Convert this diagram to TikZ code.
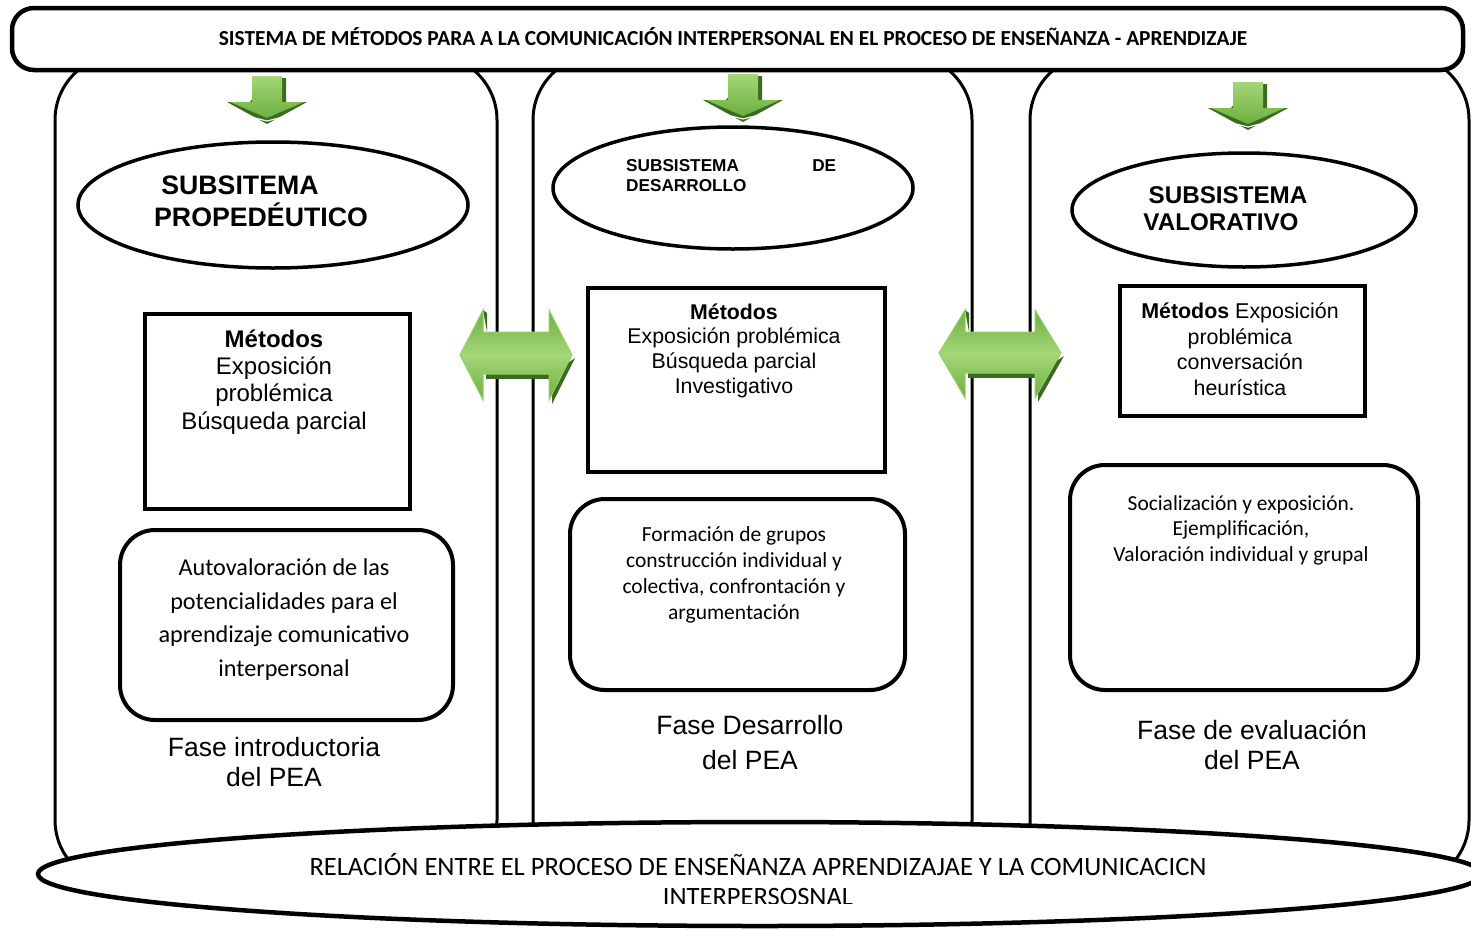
\documentclass[tikz,border=0pt]{standalone}
\usepackage{fontspec}
\setmainfont{Liberation Sans}
\newfontfamily\calfont{Carlito}
\usetikzlibrary{shapes.geometric}
\definecolor{gLight}{RGB}{165,214,120}
\definecolor{gMid}{RGB}{108,176,62}
\definecolor{gDark}{RGB}{58,108,32}
\definecolor{gEdge}{RGB}{150,205,110}
\newcommand\gdown[2]{% center x, top y
  \fill[gDark] ({#1+2},{#2+2}) -- ({#1+19},{#2+2}) -- ({#1+19},{#2+26}) -- ({#1+40},{#2+26}) -- (#1,{#2+48}) -- ({#1-40},{#2+26}) -- ({#1-17},{#2+26}) -- cycle;
  \shade[top color=gLight, bottom color=gMid] ({#1-15},#2) -- ({#1+15},#2) -- ({#1+15},{#2+26}) -- ({#1+37},{#2+26}) -- (#1,{#2+42}) -- ({#1-37},{#2+26}) -- ({#1-15},{#2+26}) -- cycle;
  \draw[white, line width=1.2pt] ({#1-36},{#2+36}) -- (#1,{#2+45}) -- ({#1+36},{#2+36});
}
\newcommand\gdouble[8]{% x1 x2 top bot headlen shaftTop shaftBot cy
  \fill[gDark] ({#1+#5+3},{#7-4}) rectangle ({#2-#5+3},{#7+5});
  \fill[gDark] ({#2-#5+3},{#7}) -- ({#2-#5+3},{#4+4}) -- ({#2+3},{#8+3}) -- cycle;
  \fill[gDark] ({#1+#5},{#3}) -- ({#1+#5+4},{#3+3}) -- ({#1+#5+4},{#6}) -- cycle;
  \shade[top color=gMid, bottom color=gMid, middle color=gLight, draw=gEdge, line width=1pt]
    (#1,#8) -- ({#1+#5},#3) -- ({#1+#5},#6) -- ({#2-#5},#6) -- ({#2-#5},#3) -- (#2,#8)
    -- ({#2-#5},#4) -- ({#2-#5},#7) -- ({#1+#5},#7) -- ({#1+#5},#4) -- cycle;
}
\begin{document}
\begin{tikzpicture}[x=1pt,y=-1pt,
  colline/.style={draw, line width=3pt, rounded corners=65},
  mbox/.style={draw, line width=3.5pt, inner sep=0},
  rbox/.style={draw, line width=4pt, rounded corners=35, inner sep=0},
  oval/.style={draw, ellipse, line width=3.5pt, fill=white, inner sep=0},
  txt/.style={align=center, inner sep=0},
]
\useasboundingbox[fill=white] (0,0) rectangle (1471,929);

% columns
\draw[colline] (55,885) rectangle (497,55);
\draw[colline] (533,885) rectangle (972,55);
\draw[colline] (1030,885) rectangle (1469,55);

% banner
\node[draw, line width=4.5pt, rounded corners=22, fill=white, minimum width=1451, minimum height=62, inner sep=0] (banner) at (737.5,39) {};
\node[txt, font=\calfont\bfseries\fontsize{21.4}{24}\selectfont] (title) at (733,37) {SISTEMA DE MÉTODOS PARA A LA COMUNICACIÓN INTERPERSONAL EN EL PROCESO DE ENSEÑANZA - APRENDIZAJE};

% bottom ellipse
\node[oval, line width=4.5pt, minimum width=1444, minimum height=104] (rel) at (760,874) {};
\begin{scope}
  \clip (0,0) rectangle (1471,903);
  \node[txt, font=\calfont\fontsize{26.5}{30}\selectfont] (reltxt) at (758,880) {RELACIÓN ENTRE EL PROCESO DE ENSEÑANZA APRENDIZAJAE Y LA COMUNICACICN\\INTERPERSOSNAL};
\end{scope}

% down arrows
\gdown{267}{76}
\gdown{743}{74}
\gdown{1248}{82}

% double arrows
\gdouble{460}{572}{310}{400}{23}{332}{374}{355}
\gdouble{939}{1061}{310}{398}{26}{332}{373}{353}

% subsystem ellipses
\node[oval, minimum width=390, minimum height=126] (eL) at (273,205) {};
\node[oval, minimum width=360, minimum height=122] (eM) at (733,188) {};
\node[oval, minimum width=344, minimum height=114] (eR) at (1244,210) {};
\node[txt, font=\bfseries\fontsize{26.7}{30}\selectfont] (eL1) at (240,185) {SUBSITEMA};
\node[txt, font=\bfseries\fontsize{26.7}{30}\selectfont] (eL2) at (261,215) {PROPEDÉUTICO};
\node[txt, align=left, anchor=north west, font=\bfseries\fontsize{17.2}{20}\selectfont] (eMt) at (626,159) {\makebox[210pt][s]{SUBSISTEMA\hfill DE}\\DESARROLLO};
\node[txt, font=\bfseries\fontsize{24.2}{27}\selectfont] (eR1) at (1228,195) {SUBSISTEMA};
\node[txt, font=\bfseries\fontsize{24.2}{27}\selectfont] (eR2) at (1221,222) {VALORATIVO};

% methods boxes
\node[mbox, minimum width=265, minimum height=195] (mL) at (277.5,411.5) {};
\node[mbox, minimum width=297, minimum height=184] (mM) at (736.5,380) {};
\node[mbox, minimum width=245, minimum height=130] (mR) at (1242.5,351) {};
\node[txt, font=\fontsize{24}{27.3}\selectfont] (mLt) at (274,382) {\textbf{Métodos}\\Exposición\\problémica\\Búsqueda parcial};
\node[txt, font=\fontsize{21.3}{24.7}\selectfont] (mMt) at (734,350.5) {\textbf{Métodos}\\Exposición problémica\\Búsqueda parcial\\Investigativo};
\node[txt, font=\fontsize{21.4}{25.5}\selectfont] (mRt) at (1240,349) {\textbf{Métodos} Exposición\\problémica\\conversación\\heurística};

% rounded boxes
\node[rbox, minimum width=333, minimum height=190] (rL) at (286.5,625) {};
\node[rbox, minimum width=335, minimum height=191] (rM) at (737.5,594.5) {};
\node[rbox, minimum width=348, minimum height=225] (rR) at (1244,577.5) {};
\node[txt, font=\calfont\fontsize{24.2}{33.7}\selectfont] (rLt) at (284,619.5) {Autovaloración de las\\potencialidades para el\\aprendizaje comunicativo\\interpersonal};
\node[txt, font=\calfont\fontsize{21.5}{26}\selectfont] (rMt) at (734,575) {Formación de grupos\\construcción individual y\\colectiva, confrontación y\\argumentación};
\node[txt, font=\calfont\fontsize{21.4}{25.5}\selectfont] (rRt) at (1241,530) {Socialización y exposición.\\Ejemplificación,\\Valoración individual y grupal};

% phase labels
\node[txt, font=\fontsize{26.5}{30}\selectfont] (fL) at (274,762) {Fase introductoria\\del PEA};
\node[txt, font=\fontsize{26.5}{35}\selectfont] (fM) at (750,742.5) {Fase Desarrollo\\del PEA};
\node[txt, font=\fontsize{26.5}{30}\selectfont] (fR) at (1252,745) {Fase de evaluación\\del PEA};
\end{tikzpicture}
\end{document}
